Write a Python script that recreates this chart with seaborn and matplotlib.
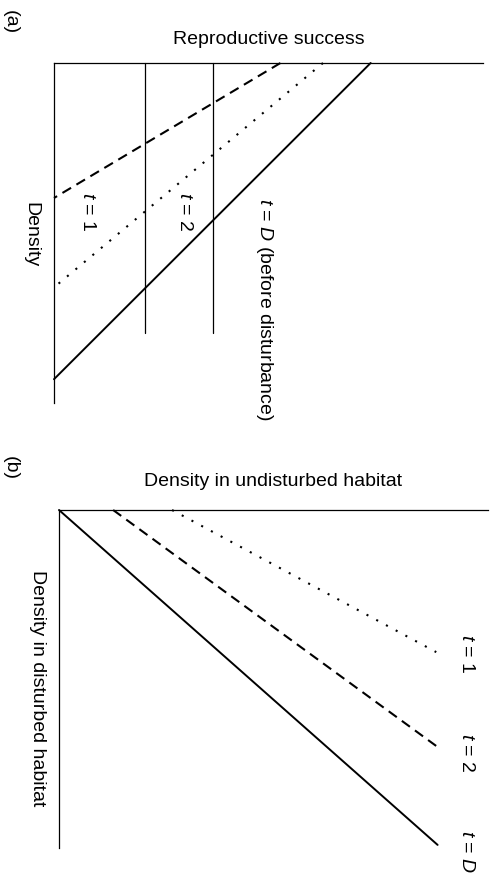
import matplotlib
matplotlib.use("Agg")
import matplotlib.pyplot as plt
import seaborn as sns

sns.set_style("white")
plt.rcParams["font.family"] = ["Liberation Sans", "DejaVu Sans"]
plt.rcParams["text.color"] = "black"
plt.rcParams["mathtext.fontset"] = "custom"
plt.rcParams["mathtext.it"] = "Liberation Sans:italic"
plt.rcParams["mathtext.rm"] = "Liberation Sans"

# ---------------- data (arbitrary units) ----------------
# Panel (a): reproductive success vs density (figure shown rotated 90 deg clockwise)
a_solid_success = [9.3, 0.0]
a_solid_density = [0.0, 9.3]
a_dashed_success = [6.65, 0.0]
a_dashed_density = [0.0, 3.97]
a_dotted_success = [7.9, 0.0]
a_dotted_density = [0.0, 6.6]
a_thresholds = [2.68, 4.68]          # horizontal (in original) reproductive-success levels
a_threshold_density = [0.0, 7.94]

# Panel (b): density in disturbed vs undisturbed habitat
b_solid_undist = [0.0, 11.12]
b_solid_dist = [0.0, 9.85]
b_dashed_undist = [1.59, 11.12]
b_dashed_dist = [0.0, 6.97]
b_dotted_undist = [3.32, 11.08]
b_dotted_dist = [0.0, 4.18]

W, H = 497, 876
fig = plt.figure(figsize=(W / 100, H / 100), dpi=100)

def make_ax(left, top, right, bottom):
    ax = fig.add_axes([left / W, 1 - bottom / H, (right - left) / W, (bottom - top) / H])
    for s in ["right", "bottom"]:
        ax.spines[s].set_visible(False)
    for s in ["top", "left"]:
        ax.spines[s].set_color("black")
        ax.spines[s].set_linewidth(0.9)
    ax.set_xticks([])
    ax.set_yticks([])
    return ax

rot = -90
fs = 14
dash = (0, (4.8, 3.0))
dot = (0, (1, 4.3))

# ---------------- panel (a) ----------------
axa = make_ax(54, 63, 483, 403)
common = dict(ax=axa, color="black", estimator=None, sort=False, clip_on=False)
sns.lineplot(x=a_solid_success, y=a_solid_density, lw=1.4, **common)
sns.lineplot(x=a_dashed_success, y=a_dashed_density, lw=1.5, linestyle=dash, **common)
sns.lineplot(x=a_dotted_success, y=a_dotted_density, lw=1.5, linestyle=dot, **common)
for thr in a_thresholds:
    sns.lineplot(x=[thr, thr], y=a_threshold_density, lw=0.9, **common)
axa.set_xlim(0, 12.6)
axa.set_ylim(10, 0)
axa.set_xlabel("")
axa.set_ylabel("")

axa.text(0.5, 1 + 23 / 340, "Reproductive success", transform=axa.transAxes,
         ha="center", va="center", fontsize=fs)
axa.text(-23 / 429, 0.5 - 2 / 340, "Density", transform=axa.transAxes,
         ha="center", va="center", rotation=rot, fontsize=fs)
axa.text(0.97, 4.38, "$t$ = 1", ha="center", va="center", rotation=rot, fontsize=fs)
axa.text(3.82, 4.38, "$t$ = 2", ha="center", va="center", rotation=rot, fontsize=fs)
axa.text(6.18, 3.97, "$t$ = $D$ (before disturbance)", ha="center", va="top",
         rotation=rot, fontsize=fs)
fig.text(10 / W, 1 - 22 / H, "(a)", ha="center", va="center", rotation=rot, fontsize=fs)

# ---------------- panel (b) ----------------
axb = make_ax(59, 510, 488, 848)
common = dict(ax=axb, color="black", estimator=None, sort=False, clip_on=False)
sns.lineplot(x=b_solid_undist, y=b_solid_dist, lw=1.4, **common)
sns.lineplot(x=b_dashed_undist, y=b_dashed_dist, lw=1.5, linestyle=dash, **common)
sns.lineplot(x=b_dotted_undist, y=b_dotted_dist, lw=1.5, linestyle=dot, **common)
axb.set_xlim(0, 12.6)
axb.set_ylim(338 / 34, 0)
axb.set_xlabel("")
axb.set_ylabel("")

axb.text(0.5, 1 + 28 / 338, "Density in undisturbed habitat", transform=axb.transAxes,
         ha="center", va="center", fontsize=fs)
axb.text(-22 / 429, 0.5 - 9 / 338, "Density in disturbed habitat", transform=axb.transAxes,
         ha="center", va="center", rotation=rot, fontsize=fs)
axb.text(11.97, 4.24, "$t$ = 1", ha="center", va="center", rotation=rot, fontsize=fs)
axb.text(11.97, 7.15, "$t$ = 2", ha="center", va="center", rotation=rot, fontsize=fs)
axb.text(11.97, 10.06, "$t$ = $D$", ha="center", va="center", rotation=rot, fontsize=fs)
fig.text(10 / W, 1 - 468 / H, "(b)", ha="center", va="center", rotation=rot, fontsize=fs)

fig.savefig("out.png", dpi=100)
